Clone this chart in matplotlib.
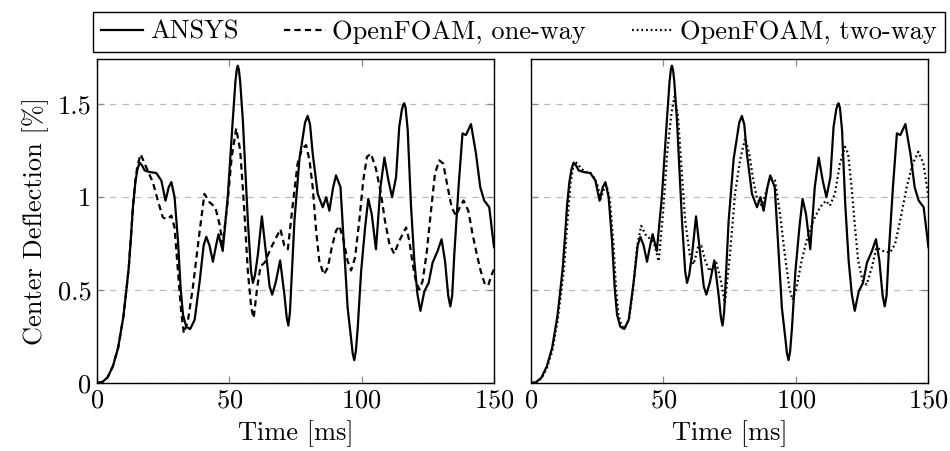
import matplotlib
matplotlib.use('Agg')
import matplotlib.pyplot as plt

# Computer Modern look, like the pgfplots original
plt.rcParams['font.family'] = ['cmr10', 'DejaVu Serif']
plt.rcParams['mathtext.fontset'] = 'cm'
plt.rcParams['axes.formatter.use_mathtext'] = True
plt.rcParams['font.size'] = 19

# ANSYS reference solution
t_ansys = [0, 2, 4, 6, 8, 10, 11.1, 12, 13, 13.6, 14.5, 15.3, 16.1, 17, 18, 19.9, 22.4, 24.3,
           25.9, 27.1, 28.1, 29.3, 30.6, 31.6, 32.5, 33.7, 35.2, 36.9, 38.8, 40.3, 41.3, 42.5,
           43.8, 45.0, 45.9, 47.5, 49.4, 51.3, 52.3, 52.8, 53.2, 53.6, 54.1, 55.1, 57.0, 58.2,
           58.9, 59.7, 60.8, 62.3, 63.9, 65.2, 66.2, 67.5, 69.2, 70.8, 71.7, 72.3, 72.9, 74.6,
           76.5, 77.4, 78.6, 79.6, 80.5, 81.5, 83.4, 85.3, 86.6, 87.8, 89.2, 90.3, 92.0, 93.5,
           94.7, 96.0, 96.6, 97.2, 97.8, 98.5, 99.8, 101.3, 102.5, 103.8, 105.4, 107.1, 108.6,
           110.1, 111.5, 113.0, 114.2, 115.2, 115.7, 116.1, 116.6, 117.4, 118.6, 119.9, 121.1,
           122.2, 123.7, 125.3, 126.8, 128.7, 130.2, 131.5, 132.7, 133.5, 134.2, 135.0, 136.6,
           138.1, 139.4, 141.3, 143.2, 144.8, 146.3, 148.2, 150]
v_ansys = [0, 0.005, 0.03, 0.09, 0.19, 0.36, 0.5, 0.62, 0.82, 0.95, 1.08, 1.15, 1.185, 1.17,
           1.143, 1.134, 1.129, 1.089, 0.98, 1.053, 1.08, 1.0, 0.764, 0.51, 0.367, 0.303, 0.29,
           0.34, 0.547, 0.74, 0.786, 0.74, 0.652, 0.74, 0.80, 0.71, 1.0, 1.414, 1.62, 1.685,
           1.706, 1.685, 1.62, 1.414, 0.872, 0.6, 0.538, 0.58, 0.692, 0.896, 0.692, 0.52, 0.475,
           0.54, 0.659, 0.475, 0.35, 0.309, 0.38, 0.872, 1.206, 1.288, 1.4, 1.436, 1.39, 1.233,
           1.017, 0.945, 0.999, 0.926, 1.05, 1.116, 1.053, 0.692, 0.403, 0.24, 0.16, 0.123, 0.17,
           0.295, 0.601, 0.836, 0.99, 0.908, 0.719, 1.053, 1.212, 1.089, 0.999, 1.107, 1.378,
           1.47, 1.495, 1.504, 1.48, 1.36, 0.963, 0.655, 0.475, 0.388, 0.493, 0.538, 0.647,
           0.71, 0.773, 0.655, 0.47, 0.412, 0.47, 0.692, 1.053, 1.342, 1.333, 1.392, 1.233,
           1.053, 0.981, 0.945, 0.73]

# OpenFOAM one-way coupling
t_oneway = [0, 2, 4, 6, 8, 10, 11.1, 12, 13, 13.6, 14.5, 15.3, 16.5, 18.0, 19.5, 21.1, 23.0,
            24.9, 26.5, 28.1, 29.3, 30.6, 31.8, 32.8, 34.3, 36.2, 38.8, 40.6, 42.5, 44.7, 46.3,
            47.5, 49.4, 50.9, 52.6, 54.1, 55.5, 57.0, 58.3, 59.2, 60.5, 61.8, 63.3, 65.8, 67.7,
            69.3, 70.8, 72.1, 74.0, 75.8, 77.5, 79.0, 80.3, 81.5, 82.8, 84.0, 85.7, 87.2, 88.7,
            90.3, 91.6, 93.2, 94.7, 96.0, 97.5, 99.1, 100.6, 102.0, 103.5, 105.4, 107.3, 108.8,
            110.5, 112.3, 114.2, 116.8, 118.0, 119.3, 120.5, 121.8, 123.0, 124.5, 126.2, 127.7,
            129.3, 130.8, 132.5, 134.0, 135.6, 137.1, 138.5, 140.3, 141.9, 143.5, 145.0, 146.6,
            147.8, 149.4, 150]
v_oneway = [0, 0.005, 0.03, 0.09, 0.19, 0.36, 0.5, 0.62, 0.82, 0.95, 1.09, 1.17, 1.23, 1.18,
            1.13, 1.08, 0.98, 0.89, 0.88, 0.9, 0.836, 0.60, 0.385, 0.268, 0.33, 0.511, 0.818,
            1.017, 0.972, 0.945, 0.854, 0.746, 0.98, 1.216, 1.369, 1.251, 0.963, 0.60, 0.403,
            0.349, 0.511, 0.628, 0.647, 0.728, 0.782, 0.827, 0.737, 0.719, 0.963, 1.18, 1.26,
            1.279, 1.197, 1.053, 0.818, 0.655, 0.583, 0.62, 0.728, 0.818, 0.845, 0.764, 0.655,
            0.605, 0.674, 0.872, 1.089, 1.216, 1.233, 1.152, 1.017, 0.872, 0.746, 0.695, 0.764,
            0.836, 0.764, 0.638, 0.547, 0.502, 0.547, 0.692, 0.926, 1.125, 1.197, 1.18, 1.053,
            0.945, 0.9, 0.945, 0.981, 0.926, 0.80, 0.692, 0.601, 0.529, 0.525, 0.593, 0.61]

# OpenFOAM two-way coupling
t_twoway = [0, 2, 4, 6, 8, 10, 11.5, 12.5, 13.5, 14.2, 15.0, 15.8, 16.6, 17.5, 19.0, 20.5, 23,
            25, 26.3, 27.5, 28.5, 29.8, 31.1, 32.1, 33.0, 34.2, 35.4, 37, 38.5, 40.0, 41.6, 43.5,
            45.5, 46.5, 48.2, 49.8, 51.4, 53.0, 54.2, 55.5, 56.7, 58.2, 59.9, 61.4, 63.0, 64.3,
            65.8, 67.4, 69.9, 71.5, 73.2, 75.1, 77.0, 78.9, 80.8, 82.4, 83.9, 85.2, 87.1, 88.8,
            90.2, 92.1, 94.0, 95.8, 97.5, 98.7, 100.2, 102.1, 104.0, 106.5, 109.1, 111.3, 112.8,
            114.7, 116.6, 118.5, 119.7, 121.0, 122.3, 123.5, 125.2, 126.7, 128.6, 130.4, 132.9,
            135.5, 137.4, 139.3, 141.8, 144.1, 146.2, 148.1, 150]
v_twoway = [0, 0.004, 0.025, 0.08, 0.17, 0.33, 0.5, 0.62, 0.82, 0.95, 1.08, 1.15, 1.19, 1.18,
            1.152, 1.135, 1.125, 1.07, 0.99, 1.04, 1.065, 0.98, 0.75, 0.51, 0.37, 0.305, 0.295,
            0.34, 0.5, 0.73, 0.845, 0.791, 0.77, 0.75, 0.655, 0.908, 1.233, 1.45, 1.54, 1.432,
            1.18, 0.872, 0.692, 0.638, 0.728, 0.737, 0.655, 0.601, 0.647, 0.56, 0.43, 0.692,
            1.017, 1.197, 1.315, 1.233, 1.089, 0.999, 0.953, 1.03, 1.107, 1.089, 0.908, 0.692,
            0.511, 0.448, 0.511, 0.655, 0.764, 0.872, 0.945, 0.98, 0.953, 1.017, 1.18, 1.27,
            1.233, 1.053, 0.836, 0.655, 0.547, 0.529, 0.62, 0.728, 0.71, 0.701, 0.746, 0.872,
            1.053, 1.18, 1.243, 1.18, 1.0]

x_ticks = [0, 50, 100, 150]
y_ticks = [0, 0.5, 1, 1.5]
y_ticklabels = ['0', '0.5', '1', '1.5']

fig = plt.figure(figsize=(9.5, 4.51), dpi=100)
ax1 = fig.add_axes([0.1021, 0.1508, 0.4179, 0.7184])
ax2 = fig.add_axes([0.5589, 0.1508, 0.4184, 0.7184])

lw = 1.6
l_ansys, = ax1.plot(t_ansys, v_ansys, color='black', lw=lw, label='ANSYS')
l_one, = ax1.plot(t_oneway, v_oneway, color='black', lw=lw, ls=(0, (2.8, 1.9)),
                  label='OpenFOAM, one-way')
ax2.plot(t_ansys, v_ansys, color='black', lw=lw)
l_two, = ax2.plot(t_twoway, v_twoway, color='black', lw=lw, ls=(0, (0.8, 1.3)),
                  label='OpenFOAM, two-way')

for ax in (ax1, ax2):
    ax.set_xlim(0, 150)
    ax.set_ylim(0, 1.742)
    ax.set_xticks(x_ticks)
    ax.set_yticks(y_ticks)
    ax.grid(axis='y', color='#bbbbbb', ls=(0, (5, 5)), lw=0.9)
    ax.set_axisbelow(True)
    ax.tick_params(direction='in', top=True, right=True, length=5, width=0.9,
                   color='#888888', pad=4)
    for sp in ax.spines.values():
        sp.set_linewidth(1.0)
    ax.set_xlabel('Time [ms]', labelpad=6)

ax1.set_yticklabels(y_ticklabels)
ax1.set_ylabel('Center Deflection [%]', labelpad=6)
ax2.set_yticklabels([])

leg = fig.legend(handles=[l_ansys, l_one, l_two], loc='lower left', ncol=3,
                 bbox_to_anchor=(93 / 950, 1 - 52 / 451, (945 - 93) / 950, 40 / 451),
                 mode='expand', borderaxespad=0, fancybox=False, handlelength=1.6,
                 handletextpad=0.25, borderpad=0.3, frameon=True, edgecolor='black',
                 framealpha=1)
leg.get_frame().set_linewidth(1.0)

fig.savefig('out.png', dpi=100)
